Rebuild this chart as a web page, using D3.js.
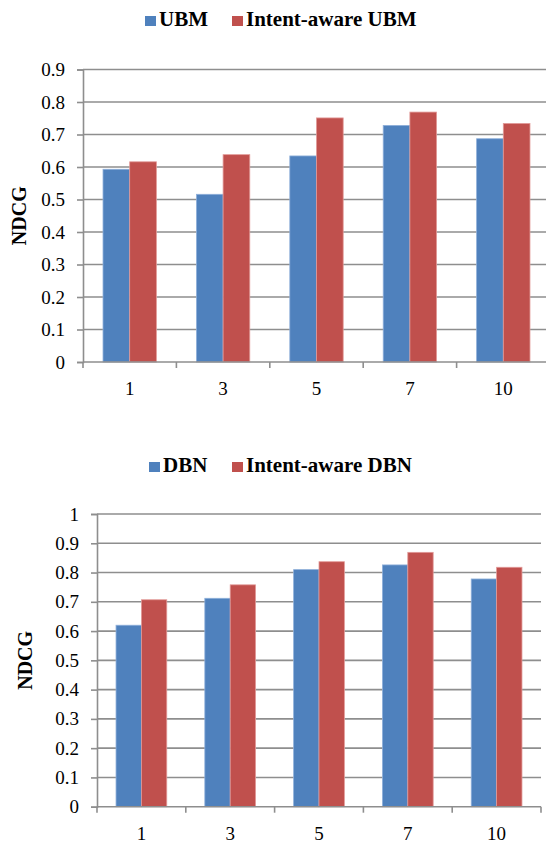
<!DOCTYPE html>
<html>
<head>
<meta charset="utf-8">
<script src="https://cdn.jsdelivr.net/npm/d3@7"></script>
<style>
  body { margin: 0; background: #fff; }
  text { font-family: "Liberation Serif", "Times New Roman", serif; }
</style>
</head>
<body>
<script>
    // data
    var categories = ['1', '3', '5', '7', '10'];

    var ubm = [0.593, 0.516, 0.634, 0.728, 0.687];
    var intentUbm = [0.616, 0.638, 0.751, 0.769, 0.734];

    var dbn = [0.620, 0.712, 0.810, 0.826, 0.778];
    var intentDbn = [0.707, 0.758, 0.837, 0.869, 0.818];

    var yTicksTop = [0, 0.1, 0.2, 0.3, 0.4, 0.5, 0.6, 0.7, 0.8, 0.9];
    var yTicksBottom = [0, 0.1, 0.2, 0.3, 0.4, 0.5, 0.6, 0.7, 0.8, 0.9, 1];

    var colors = ['#4F81BD', '#C0504D'];
    var strokes = ['#8FB0DA', '#E29A98'];
    var gridColor = '#8e8e8e';
    var serif = '"Liberation Serif", "Times New Roman", serif';

    var W = 546, H = 844;

    var svg = d3.select('body')
        .append('svg')
        .attr('width', W)
        .attr('height', H)
        .attr('font-family', serif);

    function drawChart(cfg) {
        var g = svg.append('g');

        var x = d3.scaleBand()
            .domain(categories)
            .range([cfg.left, cfg.right])
            .paddingInner(0)
            .paddingOuter(0);

        var inner = d3.scaleBand()
            .domain([0, 1])
            .range([0, x.bandwidth()])
            .paddingOuter(0.75);

        var y = d3.scaleLinear()
            .domain([0, cfg.yMax])
            .range([cfg.bottom, cfg.top]);

        // gridlines
        g.selectAll('line.grid')
            .data(cfg.yTicks.filter(d => d > 0))
            .enter()
            .append('line')
            .attr('class', 'grid')
            .attr('x1', cfg.left)
            .attr('x2', cfg.gridRight)
            .attr('y1', d => y(d))
            .attr('y2', d => y(d))
            .attr('stroke', gridColor)
            .attr('stroke-width', 1.6);

        // y axis
        var yAxis = g.append('g')
            .attr('transform', 'translate(' + cfg.left + ',0)')
            .call(d3.axisLeft(y)
                .tickValues(cfg.yTicks)
                .tickSize(6)
                .tickPadding(12)
                .tickFormat(d => String(d)));
        yAxis.attr('font-family', serif).attr('font-size', 19);
        yAxis.select('.domain').attr('stroke', gridColor).attr('stroke-width', 1.6);
        yAxis.selectAll('.tick line').attr('stroke', gridColor).attr('stroke-width', 1.6);
        yAxis.selectAll('.tick text').attr('fill', '#000');

        // bars
        var groups = g.selectAll('g.cat')
            .data(categories)
            .enter()
            .append('g')
            .attr('class', 'cat')
            .attr('transform', d => 'translate(' + x(d) + ',0)');

        groups.selectAll('rect')
            .data((d, i) => [cfg.series[0][i], cfg.series[1][i]])
            .enter()
            .append('rect')
            .attr('x', (d, j) => inner(j))
            .attr('width', inner.bandwidth())
            .attr('y', d => y(d))
            .attr('height', d => y(0) - y(d))
            .attr('fill', (d, j) => colors[j])
            .attr('stroke', (d, j) => strokes[j])
            .attr('stroke-width', 0.8);

        // x axis line
        g.append('line')
            .attr('x1', cfg.left)
            .attr('x2', cfg.gridRight)
            .attr('y1', y(0))
            .attr('y2', y(0))
            .attr('stroke', gridColor)
            .attr('stroke-width', 1.6);

        // x ticks at band boundaries
        var bounds = categories.map(c => x(c)).concat([x.range()[1]]);
        g.selectAll('line.xtick')
            .data(bounds)
            .enter()
            .append('line')
            .attr('class', 'xtick')
            .attr('x1', d => d)
            .attr('x2', d => d)
            .attr('y1', y(0))
            .attr('y2', y(0) + 6)
            .attr('stroke', gridColor)
            .attr('stroke-width', 1.6);

        g.selectAll('text.xlab')
            .data(categories)
            .enter()
            .append('text')
            .attr('class', 'xlab')
            .attr('x', d => x(d) + x.bandwidth() / 2)
            .attr('y', y(0) + 33)
            .attr('text-anchor', 'middle')
            .attr('font-size', 19)
            .text(d => d);

        // y label
        g.append('text')
            .attr('transform', 'translate(' + cfg.labelX + ',' + (cfg.top + cfg.bottom) / 2 + ') rotate(-90)')
            .attr('text-anchor', 'middle')
            .attr('dy', '0.35em')
            .attr('font-size', 20)
            .attr('font-weight', 'bold')
            .text('NDCG');

        // legend
        var leg = g.selectAll('g.leg')
            .data(cfg.legend)
            .enter()
            .append('g')
            .attr('class', 'leg');
        leg.append('rect')
            .attr('x', d => d.x)
            .attr('y', cfg.legendY - 10)
            .attr('width', 11)
            .attr('height', 10)
            .attr('fill', (d, i) => colors[i]);
        leg.append('text')
            .attr('x', d => d.x + 14)
            .attr('y', cfg.legendY)
            .attr('font-size', 21)
            .attr('font-weight', 'bold')
            .text(d => d.name);
    }

    drawChart({
        series: [ubm, intentUbm],
        yTicks: yTicksTop,
        yMax: 0.9,
        left: 83, right: 550, gridRight: 546,
        top: 69.5, bottom: 362,
        labelX: 19,
        legendY: 26,
        legend: [{ name: 'UBM', x: 145 }, { name: 'Intent-aware UBM', x: 232 }]
    });

    drawChart({
        series: [dbn, intentDbn],
        yTicks: yTicksBottom,
        yMax: 1,
        left: 97, right: 541, gridRight: 541,
        top: 514, bottom: 806.7,
        labelX: 25,
        legendY: 472,
        legend: [{ name: 'DBN', x: 149 }, { name: 'Intent-aware DBN', x: 232 }]
    });
</script>
</body>
</html>
